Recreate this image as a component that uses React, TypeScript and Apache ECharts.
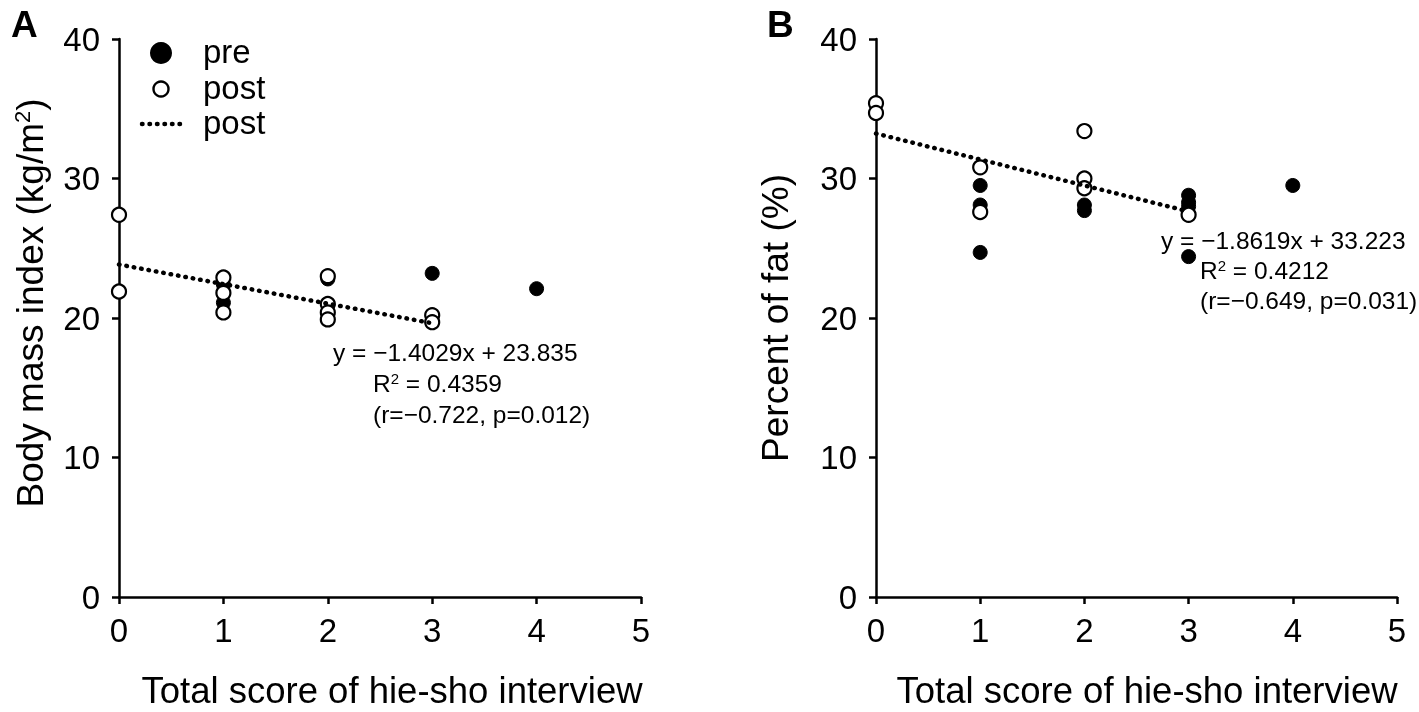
import React, { useEffect, useRef } from "react";
import * as echarts from "echarts";

const xTicks = [0, 1, 2, 3, 4, 5];
const yTicks = [0, 10, 20, 30, 40];

const preA = [[1, 22.4], [1, 21.1], [2, 22.8], [3, 23.2], [4, 22.1]];
const postA = [[0, 27.4], [0, 21.9], [1, 22.9], [1, 21.8], [1, 20.4], [2, 23.0], [2, 21.0], [2, 20.4], [2, 19.9], [3, 20.2], [3, 19.7]];
const preB = [[1, 29.5], [1, 28.1], [1, 24.7], [2, 28.1], [2, 27.7], [3, 28.8], [3, 28.3], [3, 28.0], [3, 24.4], [4, 29.5]];
const postB = [[0, 35.4], [0, 34.7], [1, 30.8], [1, 27.6], [2, 33.4], [2, 30.0], [2, 29.3], [3, 27.4]];

const fitA = { slope: -1.4029, intercept: 23.835, xMin: 0, xMax: 3 };
const fitB = { slope: -1.8619, intercept: 33.223, xMin: 0, xMax: 3 };

const annA = ["y = \u22121.4029x + 23.835", "R{s|2} = 0.4359", "(r=\u22120.722, p=0.012)"];
const annB = ["y = \u22121.8619x + 33.223", "R{s|2} = 0.4212", "(r=\u22120.649, p=0.031)"];

const FONT = "'Liberation Sans', Arial, Helvetica, sans-serif";

function fitLine(f: { slope: number; intercept: number; xMin: number; xMax: number }) {
  return [
    [f.xMin, f.slope * f.xMin + f.intercept],
    [f.xMax, f.slope * f.xMax + f.intercept],
  ];
}

export default function App() {
  const ref = useRef<HTMLDivElement>(null);
  useEffect(() => {
    if (!ref.current) return;
    const chart = echarts.init(ref.current, null, { renderer: "svg" });
    const xAxisBase = (gi: number) => ({
      gridIndex: gi,
      type: "value",
      min: xTicks[0],
      max: xTicks[xTicks.length - 1],
      interval: 1,
      axisLine: { show: true, onZero: false, lineStyle: { color: "#000", width: 2.5 } },
      axisTick: { show: true, length: 7, lineStyle: { color: "#000", width: 2.5 } },
      axisLabel: { color: "#000", fontSize: 33, fontFamily: FONT, margin: 17 },
      splitLine: { show: false },
    });
    const yAxisBase = (gi: number) => ({
      gridIndex: gi,
      type: "value",
      min: yTicks[0],
      max: yTicks[yTicks.length - 1],
      interval: 10,
      axisLine: { show: true, onZero: false, lineStyle: { color: "#000", width: 2.5 } },
      axisTick: { show: true, length: 7, lineStyle: { color: "#000", width: 2.5 } },
      axisLabel: { color: "#000", fontSize: 33, fontFamily: FONT, margin: 19 },
      splitLine: { show: false },
    });
    const filled = { color: "#000", borderColor: "#000", borderWidth: 1, opacity: 1 };
    const open = { color: "#fff", borderColor: "#000", borderWidth: 2.2, opacity: 1 };
    const dotted = { color: "#000", width: 4.5, type: [0.5, 7] as any, cap: "round" };
    const rich = {
      s: { fontSize: 15, fontFamily: FONT, fill: "#000", verticalAlign: "top", padding: [0, 0, 10, 0] },
    };
    const txt = (x: number, y: number, text: string, size = 24.5, extra: any = {}) => ({
      type: "text",
      x,
      y,
      style: { text, fontSize: size, fontFamily: FONT, fill: "#000", textVerticalAlign: "middle", rich, ...extra },
    });
    chart.setOption({
      animation: false,
      grid: [
        { left: 119, top: 39, width: 522, height: 558 },
        { left: 876, top: 39, width: 521, height: 558 },
      ],
      xAxis: [xAxisBase(0), xAxisBase(1)],
      yAxis: [yAxisBase(0), yAxisBase(1)],
      series: [
        { type: "scatter", xAxisIndex: 0, yAxisIndex: 0, data: preA, symbolSize: 14, itemStyle: filled, z: 2 },
        { type: "scatter", xAxisIndex: 0, yAxisIndex: 0, data: postA, symbolSize: 14, itemStyle: open, z: 3 },
        { type: "line", xAxisIndex: 0, yAxisIndex: 0, data: fitLine(fitA), showSymbol: false, symbol: "none", lineStyle: dotted, z: 4 },
        { type: "scatter", xAxisIndex: 1, yAxisIndex: 1, data: preB, symbolSize: 14, itemStyle: filled, z: 2 },
        { type: "scatter", xAxisIndex: 1, yAxisIndex: 1, data: postB, symbolSize: 14, itemStyle: open, z: 3 },
        { type: "line", xAxisIndex: 1, yAxisIndex: 1, data: fitLine(fitB), showSymbol: false, symbol: "none", lineStyle: dotted, z: 4 },
      ],
      graphic: [
        txt(11, 24, "A", 37, { fontWeight: "bold" }),
        txt(767, 24, "B", 37, { fontWeight: "bold" }),
        // legend
        { type: "circle", shape: { cx: 161, cy: 53, r: 11 }, style: { fill: "#000" } },
        txt(203, 51, "pre", 33),
        { type: "circle", shape: { cx: 161, cy: 89, r: 7.5 }, style: { fill: "#fff", stroke: "#000", lineWidth: 2.4 } },
        txt(203, 87, "post", 33),
        { type: "line", shape: { x1: 142, y1: 124, x2: 182, y2: 124 }, style: { stroke: "#000", lineWidth: 4.5, lineDash: [0.5, 7], lineCap: "round" } },
        txt(203, 122, "post", 33),
        // axis titles
        txt(392, 690, "Total score of hie-sho interview", 36.5, { textAlign: "center" }),
        txt(1147, 690, "Total score of hie-sho interview", 36.5, { textAlign: "center" }),
        { type: "text", x: 30, y: 303, rotation: Math.PI / 2, style: { text: "Body mass index (kg/m{s|2})", fontSize: 37, fontFamily: FONT, fill: "#000", textAlign: "center", textVerticalAlign: "middle", rich: { s: { fontSize: 22, fontFamily: FONT, fill: "#000", verticalAlign: "top", padding: [0, 0, 12, 0] } } } },
        { type: "text", x: 775, y: 318, rotation: Math.PI / 2, style: { text: "Percent of fat (%)", fontSize: 37, fontFamily: FONT, fill: "#000", textAlign: "center", textVerticalAlign: "middle" } },
        // annotations
        txt(333, 352, annA[0]),
        txt(373, 383, annA[1]),
        txt(373, 414, annA[2]),
        txt(1161, 240, annB[0]),
        txt(1200, 270, annB[1]),
        txt(1200, 300, annB[2]),
      ],
    });
    return () => chart.dispose();
  }, []);
  return <div ref={ref} style={{ position: "fixed", left: 0, top: 0, width: 1419, height: 712 }} />;
}
